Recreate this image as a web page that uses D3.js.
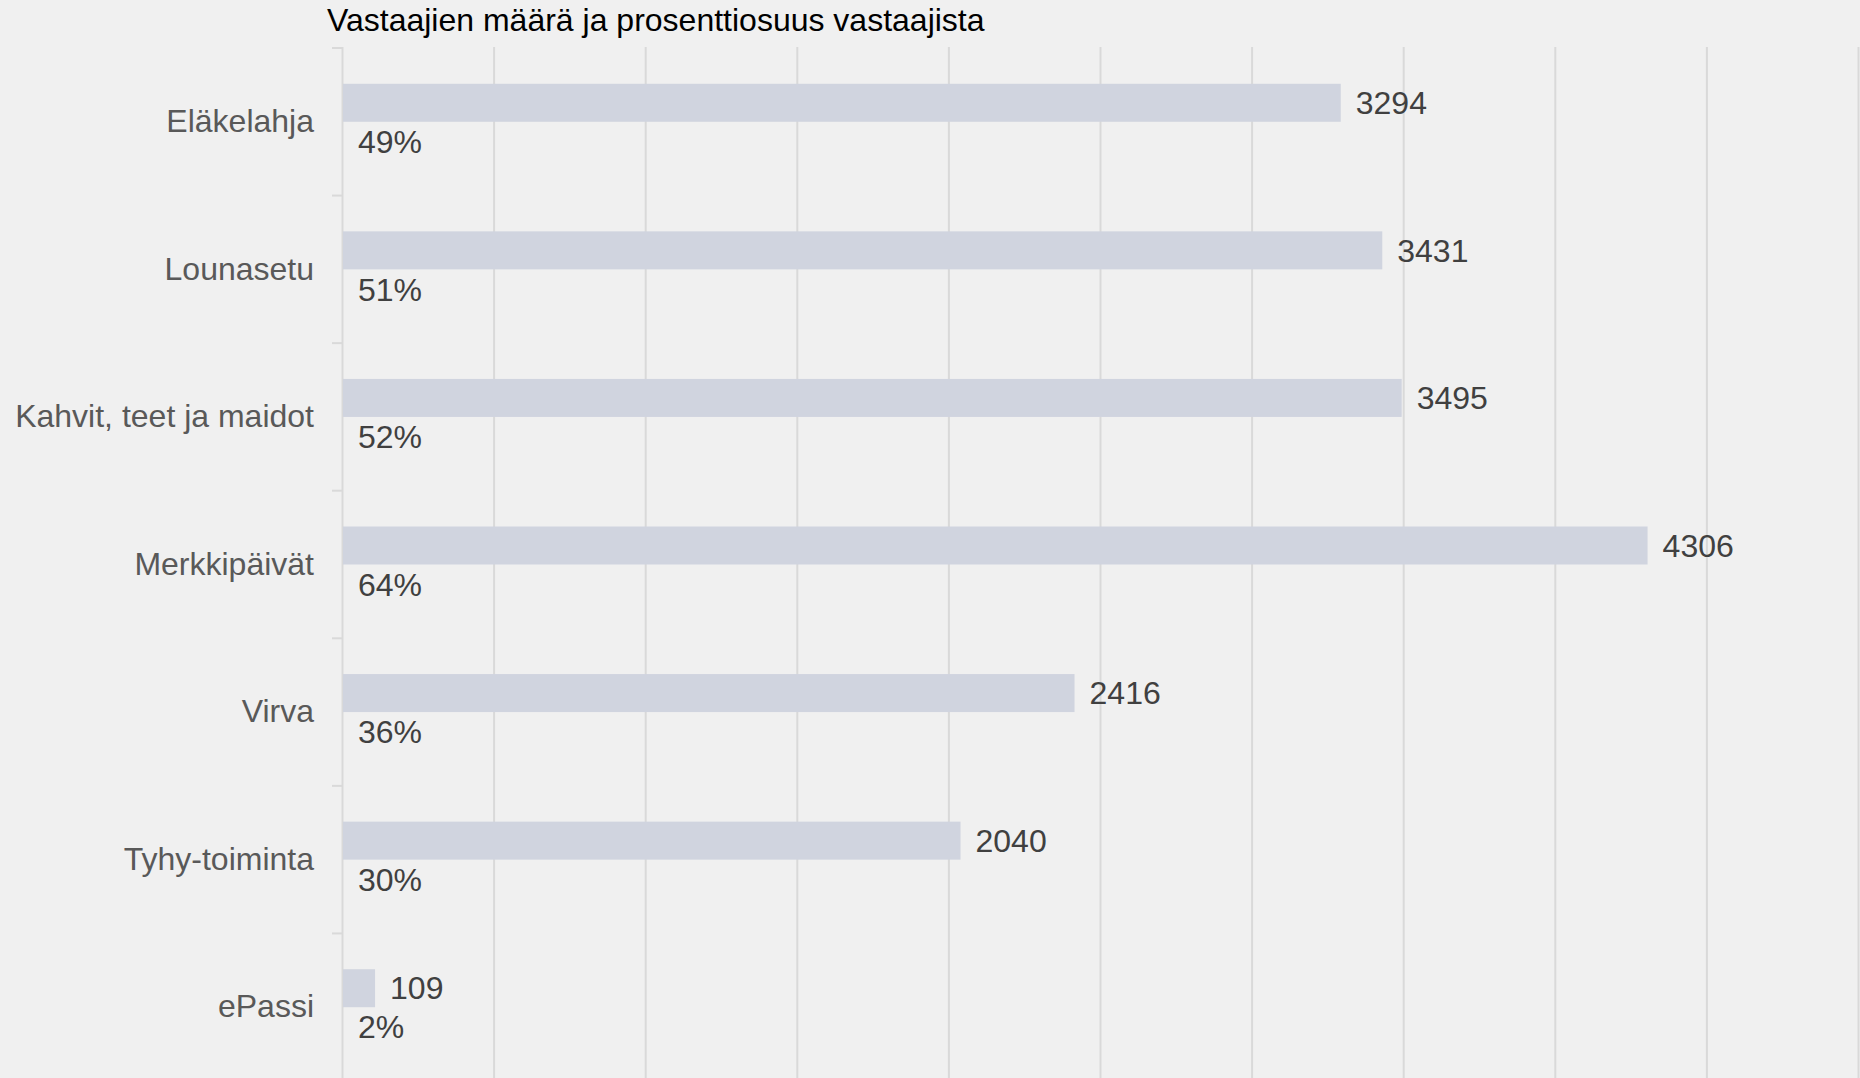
<!DOCTYPE html>
<html lang="fi">
<head>
<meta charset="utf-8">
<title>Vastaajien määrä</title>
<script src="https://d3js.org/d3.v7.min.js"></script>
<style>
  html, body { margin: 0; padding: 0; background: #f0f0f0; }
  svg { display: block; }
  text { font-family: "Liberation Sans", Arial, sans-serif; }
</style>
</head>
<body>
<script>
// data
const categories = ["Eläkelahja", "Lounasetu", "Kahvit, teet ja maidot", "Merkkipäivät", "Virva", "Tyhy-toiminta", "ePassi"];
const counts = [3294, 3431, 3495, 4306, 2416, 2040, 109];
const percents = [49, 51, 52, 64, 36, 30, 2];
const gridTicks = [0, 500, 1000, 1500, 2000, 2500, 3000, 3500, 4000, 4500, 5000];
const title = "Vastaajien määrä ja prosenttiosuus vastaajista";

const W = 1860, H = 1078;
const margin = {top: 48, right: 2, bottom: -3, left: 342};

const rows = categories.map((c, i) => ({cat: c, n: counts[i], pct: percents[i]}));

const svg = d3.select("body").append("svg")
    .attr("width", W)
    .attr("height", H)
    .style("background", "#f0f0f0");

const x = d3.scaleLinear()
    .domain([0, 5000])
    .range([margin.left, W - margin.right]);

const y = d3.scaleBand()
    .domain(categories)
    .range([margin.top, H - margin.bottom])
    .padding(0);

// two slots per band: the count bar on top, the (empty) percent slot below
const barH = 38;

// vertical gridlines
svg.append("g")
    .selectAll("line")
    .data(gridTicks)
    .enter().append("line")
    .attr("x1", d => x(d) + 0.5)
    .attr("x2", d => x(d) + 0.5)
    .attr("y1", margin.top - 1)
    .attr("y2", H)
    .attr("stroke", "#d9d9d9")
    .attr("stroke-width", 2);

// category boundary ticks on the left axis
const bounds = categories.map(c => y(c)).concat([y.range()[1]]);
svg.append("g")
    .selectAll("line")
    .data(bounds)
    .enter().append("line")
    .attr("x1", x(0) - 10)
    .attr("x2", x(0))
    .attr("y1", d => d)
    .attr("y2", d => d)
    .attr("stroke", "#d9d9d9")
    .attr("stroke-width", 2);

// bars
svg.append("g")
    .selectAll("rect")
    .data(rows)
    .enter().append("rect")
    .attr("x", x(0) + 1)
    .attr("y", d => y(d.cat) + y.bandwidth() / 2 - barH)
    .attr("width", d => x(d.n) - x(0) - 1)
    .attr("height", barH)
    .attr("fill", "#d0d4df");

// count labels
svg.append("g")
    .selectAll("text")
    .data(rows)
    .enter().append("text")
    .attr("x", d => x(d.n) + 15)
    .attr("y", d => y(d.cat) + y.bandwidth() / 2 - barH / 2)
    .attr("dy", "0.35em")
    .style("font-size", "32px")
    .attr("fill", "#404040")
    .text(d => d.n);

// percent labels in the lower slot
svg.append("g")
    .selectAll("text")
    .data(rows)
    .enter().append("text")
    .attr("x", x(0) + 16)
    .attr("y", d => y(d.cat) + y.bandwidth() / 2 + barH / 2 + 1)
    .attr("dy", "0.35em")
    .style("font-size", "32px")
    .attr("fill", "#404040")
    .text(d => d.pct + "%");

// category labels
const yAxis = d3.axisLeft(y).tickSize(0).tickPadding(28);
const ga = svg.append("g")
    .attr("transform", "translate(" + x(0) + ",0)")
    .call(yAxis);
ga.select(".domain").remove();
ga.selectAll("text")
    .style("font-size", "32px")
    .style("font-family", "'Liberation Sans', Arial, sans-serif")
    .attr("fill", "#595959");

// title
svg.append("text")
    .attr("x", 327)
    .attr("y", 31)
    .style("font-size", "32px")
    .attr("fill", "#000")
    .text(title);
</script>
</body>
</html>
